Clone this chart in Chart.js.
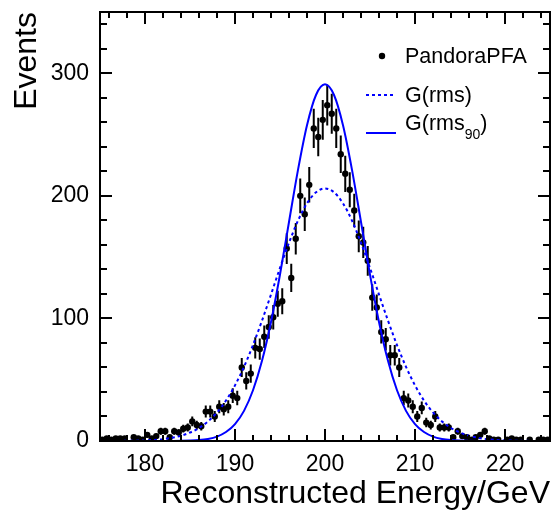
<!DOCTYPE html>
<html>
<head>
<meta charset="utf-8">
<script src="https://cdn.jsdelivr.net/npm/chart.js@4.4.1/dist/chart.umd.min.js"></script>
<style>
  html, body { margin: 0; padding: 0; background: #fff; }
</style>
</head>
<body>
<canvas id="energy-canvas" width="554" height="514"></canvas>
<script>
// histogram: 100 bins of 0.5 GeV from 175 GeV
var binLow = 175;
var binWidth = 0.5;
var pandoraCounts = [
  1, 2, 1, 2, 2, 2, 0, 3, 2, 1,
  5, 2, 4, 8, 8, 3, 8, 7, 10, 11,
  16, 13, 12, 24, 24, 20, 28, 26, 28, 37,
  35, 60, 49, 55, 76, 75, 85, 93, 101, 112,
  114, 157, 133, 165, 200, 185, 209, 255, 248, 262,
  274, 267, 255, 234, 218, 205, 188, 167, 162, 147,
  117, 109, 89, 83, 70, 70, 60, 35, 33, 28,
  20, 27, 15, 13, 20, 11, 11, 11, 3, 8,
  4, 3, 1, 3, 5, 8, 2, 1, 1, 0,
  1, 2, 1, 1, 0, 1, 0, 1, 1, 1
];

// fitted gaussians, every 1 GeV
var curveEnergies = [
  175, 176, 177, 178, 179, 180, 181, 182, 183, 184,
  185, 186, 187, 188, 189, 190, 191, 192, 193, 194,
  195, 196, 197, 198, 199, 200, 201, 202, 203, 204,
  205, 206, 207, 208, 209, 210, 211, 212, 213, 214,
  215, 216, 217, 218, 219, 220, 221, 222, 223, 224, 225
];
var gRms = [
  0.01, 0.03, 0.07, 0.14, 0.26, 0.49, 0.88, 1.5, 2.6, 4.3,
  6.9, 10.6, 16.0, 23.3, 33.0, 45.4, 60.5, 78.3, 98.2, 119.5,
  141.2, 161.7, 179.8, 193.9, 202.9, 206, 202.9, 193.9, 179.8, 161.7,
  141.2, 119.5, 98.2, 78.3, 60.5, 45.4, 33.0, 23.3, 16.0, 10.6,
  6.9, 4.3, 2.6, 1.5, 0.88, 0.49, 0.26, 0.14, 0.07, 0.03, 0.01
];
var gRms90 = [
  0, 0, 0, 0, 0, 0, 0, 0, 0.04, 0.12,
  0.31, 0.74, 1.7, 3.6, 7.3, 13.8, 24.6, 41.4, 65.4, 97.1,
  135.8, 178.7, 221.2, 257.6, 282.3, 291, 282.3, 257.6, 221.2, 178.7,
  135.8, 97.1, 65.4, 41.4, 24.6, 13.8, 7.3, 3.6, 1.7, 0.74,
  0.31, 0.12, 0.04, 0, 0, 0, 0, 0, 0, 0, 0
];

var xTickLabels = [180, 190, 200, 210, 220];
var yTickLabels = [0, 100, 200, 300];

var FONT = "'Liberation Sans', Arial, Helvetica, sans-serif";
var BLUE = '#0000ff';
Chart.defaults.font.family = FONT;
Chart.defaults.color = '#000';

function toPoints(xs, ys) {
  var out = [];
  for (var i = 0; i < xs.length; i++) {
    out.push({x: xs[i], y: ys[i]});
  }
  return out;
}

var pandoraPoints = [];
for (var i = 0; i < pandoraCounts.length; i++) {
  if (pandoraCounts[i] > 0) {
    pandoraPoints.push({x: binLow + binWidth * (i + 0.5), y: pandoraCounts[i]});
  }
}

// poisson error bars, drawn under the markers
var errorBars = {
  id: 'errorBars',
  beforeDatasetsDraw: function(chart) {
    var c = chart.ctx, a = chart.chartArea;
    var xs = chart.scales.x, ys = chart.scales.y;
    c.save();
    c.beginPath();
    c.rect(a.left, a.top, a.right - a.left, a.bottom - a.top);
    c.clip();
    c.strokeStyle = '#000';
    c.lineWidth = 2;
    c.beginPath();
    pandoraPoints.forEach(function(p) {
      var e = Math.sqrt(p.y);
      var px = xs.getPixelForValue(p.x);
      c.moveTo(px, ys.getPixelForValue(p.y - e));
      c.lineTo(px, ys.getPixelForValue(p.y + e));
    });
    c.stroke();
    c.restore();
  }
};

// ROOT style box with inward ticks on all four sides
var frameTicks = {
  id: 'frameTicks',
  afterDraw: function(chart) {
    var c = chart.ctx, a = chart.chartArea;
    var xs = chart.scales.x, ys = chart.scales.y;
    c.save();
    c.strokeStyle = '#000';
    c.lineWidth = 2;
    c.strokeRect(a.left, a.top, a.right - a.left, a.bottom - a.top);
    c.beginPath();
    for (var v = 176; v <= 224; v += 2) {
      var px = Math.round(xs.getPixelForValue(v));
      var len = (v % 10 === 0) ? 12 : 6;
      c.moveTo(px, a.bottom); c.lineTo(px, a.bottom - len);
      c.moveTo(px, a.top); c.lineTo(px, a.top + len);
    }
    for (var w = 20; w <= 340; w += 20) {
      var py = Math.round(ys.getPixelForValue(w));
      var l2 = (w % 100 === 0) ? 12 : 7;
      c.moveTo(a.left, py); c.lineTo(a.left + l2, py);
      c.moveTo(a.right, py); c.lineTo(a.right - l2, py);
    }
    c.stroke();
    c.restore();
  }
};

var legendBox = {
  id: 'legendBox',
  afterDraw: function(chart) {
    var c = chart.ctx;
    c.save();
    c.fillStyle = '#000';
    c.beginPath();
    c.arc(382, 56, 3.2, 0, Math.PI * 2);
    c.fill();

    c.strokeStyle = BLUE;
    c.lineWidth = 2;
    c.setLineDash([3, 3]);
    c.beginPath(); c.moveTo(366, 95); c.lineTo(396, 95); c.stroke();
    c.setLineDash([]);
    c.beginPath(); c.moveTo(366, 133); c.lineTo(396, 133); c.stroke();

    c.fillStyle = '#000';
    c.textBaseline = 'middle';
    c.textAlign = 'left';
    c.font = '21.5px ' + FONT;
    c.fillText('PandoraPFA', 405, 57);
    c.fillText('G(rms)', 405, 96);
    c.fillText('G(rms', 405, 124);
    var w1 = c.measureText('G(rms').width;
    c.font = '14px ' + FONT;
    c.fillText('90', 405 + w1, 135);
    var w2 = c.measureText('90').width;
    c.font = '21.5px ' + FONT;
    c.fillText(')', 405 + w1 + w2, 124);
    c.restore();
  }
};

var ctx = document.getElementById('energy-canvas').getContext('2d');
var chartObj = new Chart(ctx, {
  type: 'line',
  data: {
    datasets: [
      {
        label: 'G(rms90)',
        data: toPoints(curveEnergies, gRms90),
        borderColor: BLUE,
        borderWidth: 2,
        pointRadius: 0,
        fill: false,
        cubicInterpolationMode: 'monotone'
      },
      {
        label: 'G(rms)',
        data: toPoints(curveEnergies, gRms),
        borderColor: BLUE,
        borderWidth: 2,
        borderDash: [3, 3],
        pointRadius: 0,
        fill: false,
        cubicInterpolationMode: 'monotone'
      },
      {
        type: 'scatter',
        label: 'PandoraPFA',
        data: pandoraPoints,
        pointRadius: 3.2,
        pointBackgroundColor: '#000',
        pointBorderWidth: 0,
        showLine: false
      }
    ]
  },
  options: {
    responsive: false,
    animation: false,
    layout: { padding: { top: 12, right: 2, left: 0, bottom: 0 } },
    plugins: {
      legend: { display: false },
      tooltip: { enabled: false }
    },
    scales: {
      x: {
        type: 'linear',
        min: 175,
        max: 225,
        grid: { display: false, drawTicks: false },
        border: { display: false },
        afterBuildTicks: function(s) {
          s.ticks = xTickLabels.map(function(v) { return {value: v}; });
        },
        afterFit: function(s) {
          s.height = 73;
          s.paddingLeft = 0;
          s.paddingRight = 0;
        },
        ticks: { font: { size: 23 }, color: '#000', padding: 10, maxRotation: 0, autoSkip: false },
        title: {
          display: true,
          text: 'Reconstructed Energy/GeV',
          align: 'end',
          color: '#000',
          font: { size: 32 },
          padding: { top: 0, bottom: 1 }
        }
      },
      y: {
        min: 0,
        max: 350,
        grid: { display: false, drawTicks: false },
        border: { display: false },
        afterBuildTicks: function(s) {
          s.ticks = yTickLabels.map(function(v) { return {value: v}; });
        },
        afterFit: function(s) {
          s.width = 100;
          s.paddingTop = 0;
          s.paddingBottom = 0;
        },
        ticks: { font: { size: 23 }, color: '#000', padding: 11, autoSkip: false },
        title: {
          display: true,
          text: 'Events',
          align: 'end',
          color: '#000',
          font: { size: 32 },
          padding: { top: 8, bottom: 0 }
        }
      }
    }
  },
  plugins: [errorBars, frameTicks, legendBox]
});
</script>
</body>
</html>
